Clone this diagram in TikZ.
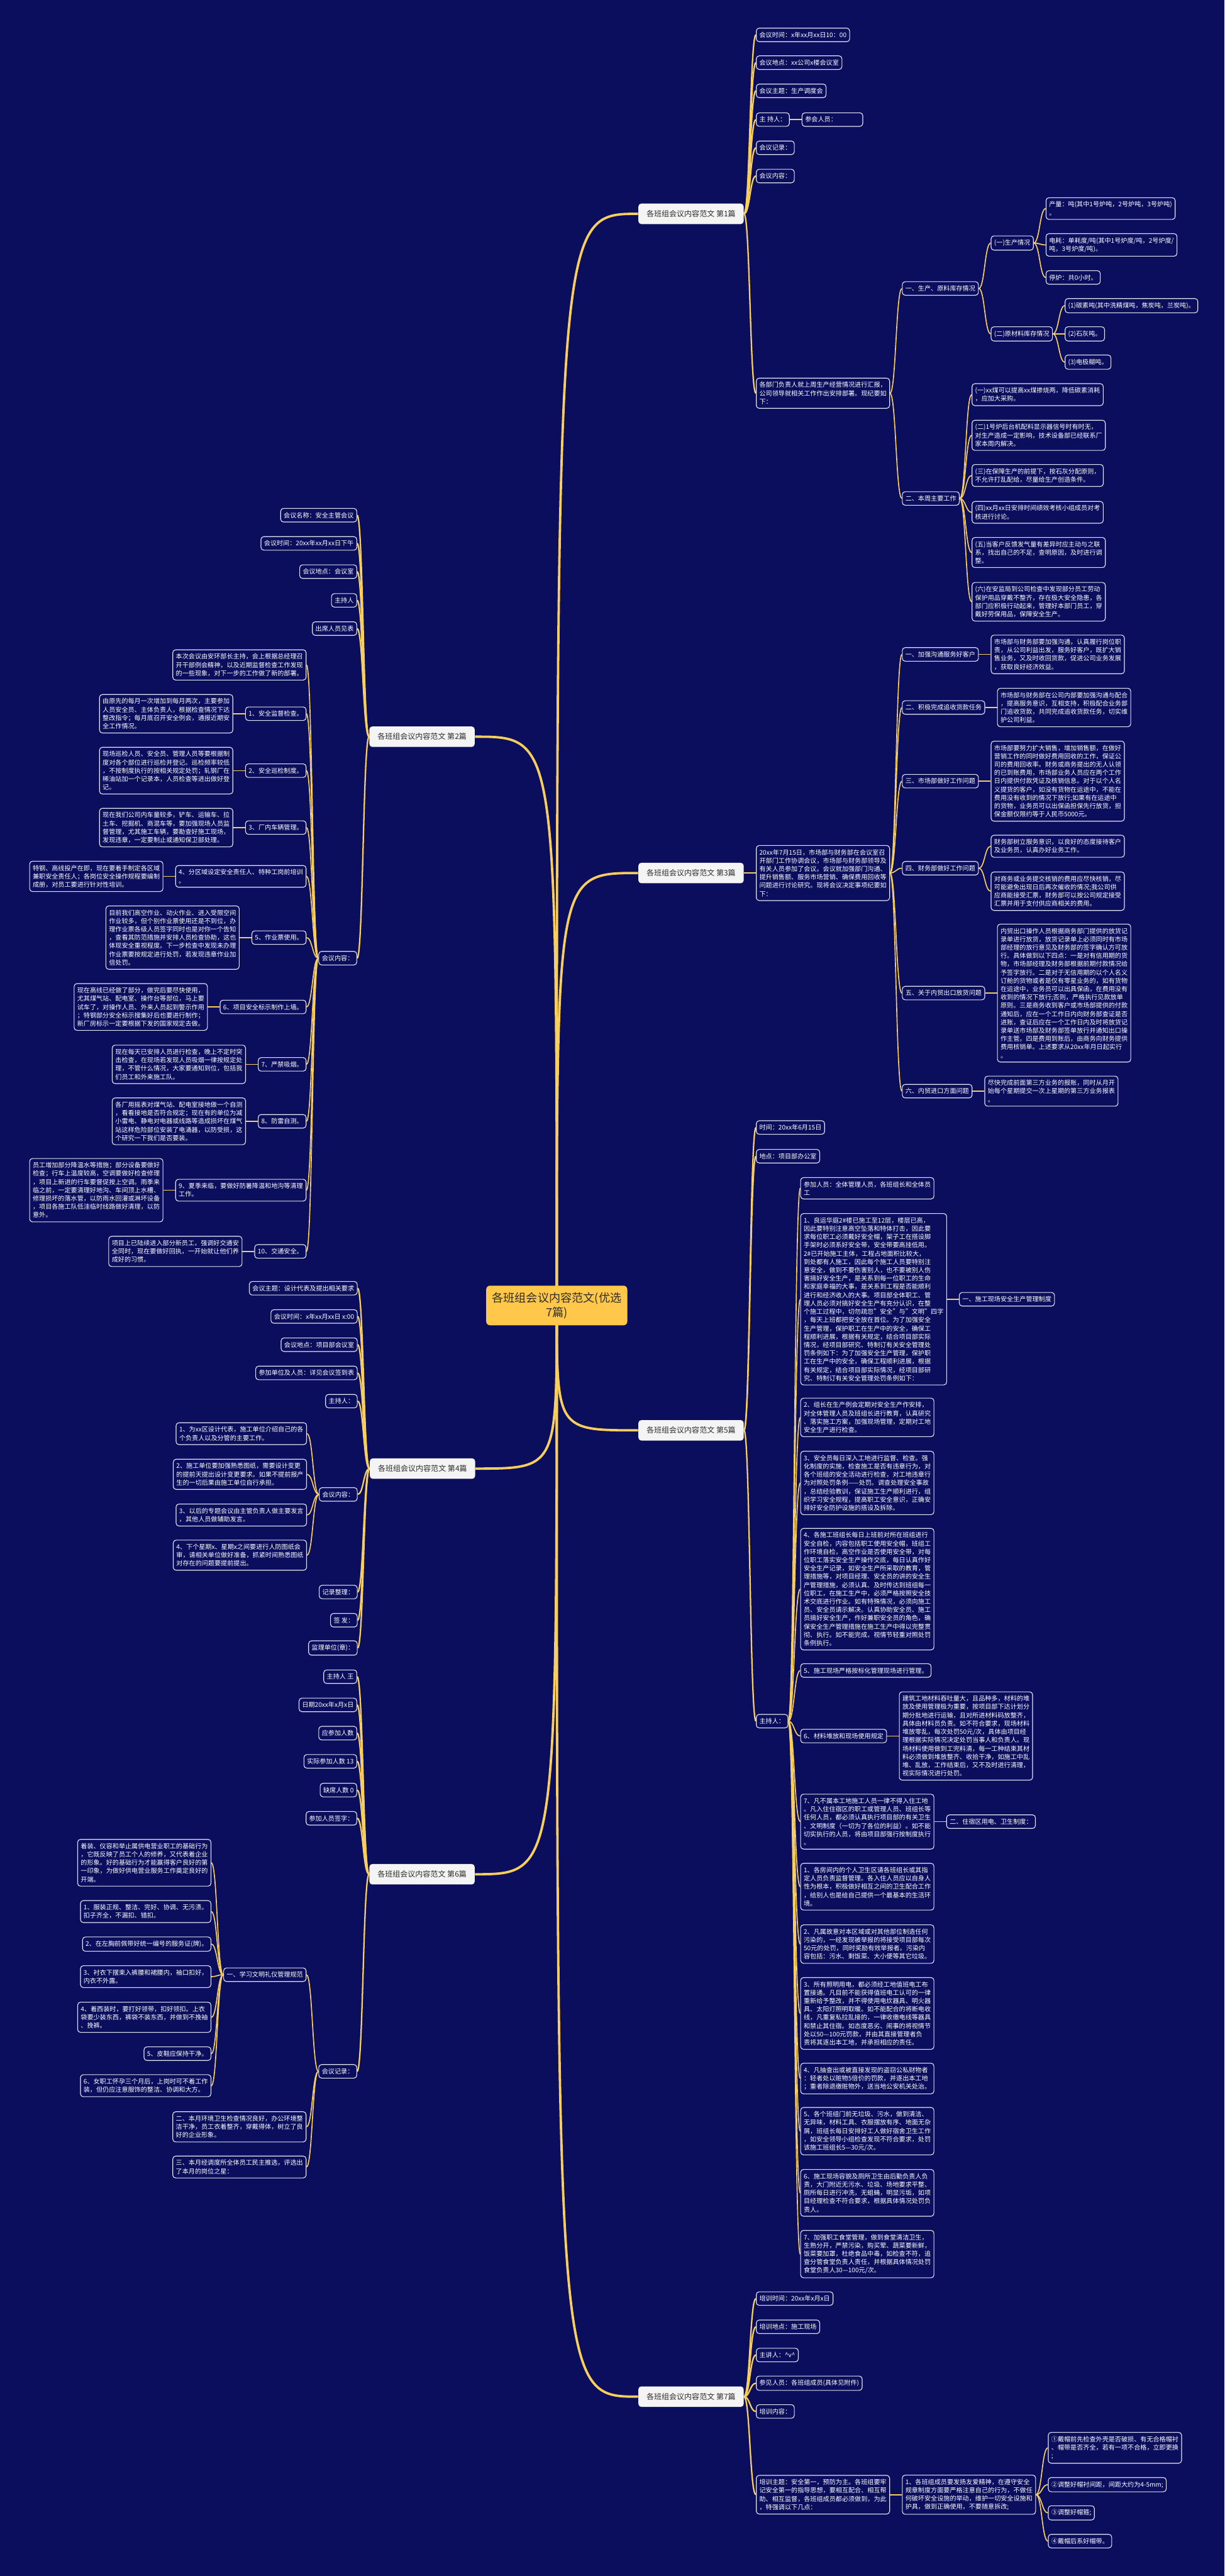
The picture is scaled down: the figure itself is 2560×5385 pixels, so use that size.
\documentclass[tikz,border=0pt]{standalone}
\usepackage{fontspec}
\setmainfont{Noto Sans CJK SC}
\usepackage{tikz}
\usetikzlibrary{positioning, calc, backgrounds}

\definecolor{bgc}{RGB}{10,14,92}
\definecolor{goldc}{RGB}{248,206,92}
\definecolor{linec}{RGB}{225,225,240}
\definecolor{branchc}{RGB}{244,244,244}
\definecolor{rootc}{RGB}{255,200,75}
\definecolor{inkc}{RGB}{45,45,45}

\tikzset{
  leaf/.style={draw=linec, line width=0.15mm, fill=bgc, text=white, rounded corners=0.6mm,
    align=left, font=\fontsize{3.78pt}{4.94pt}\selectfont, inner xsep=0.65mm, inner ysep=0.8mm},
  branch/.style={fill=branchc, text=inkc, rounded corners=0.6mm, minimum width=22mm,
    font=\fontsize{4.5pt}{5.6pt}\selectfont, inner xsep=0.8mm, inner ysep=1.4mm},
  topic/.style={fill=rootc, text=inkc, rounded corners=0.8mm, align=center,
    font=\fontsize{6.8pt}{8.5pt}\selectfont, inner xsep=1.2mm, inner ysep=1.4mm},
  link/.style={draw=goldc, line width=0.3mm, to path={.. controls ($(\tikztostart)!0.5!(\tikztotarget |- \tikztostart)$) and ($(\tikztotarget)!0.5!(\tikztostart |- \tikztotarget)$) .. (\tikztotarget)}},
  sublink/.style={link, line width=0.22mm},
  rootlink/.style={draw=goldc, line width=0.5mm, to path={.. controls (\tikztostart |- \tikztotarget) .. (\tikztotarget)}},
}

\begin{document}
\begin{tikzpicture}[x=0.1mm, y=-0.1mm]
  \begin{scope}[on background layer]
    \fill[bgc] (0,0) rectangle (2560,5385);
  \end{scope}
  \useasboundingbox (0,0) rectangle (2560,5385);

  % Root and branches
  \node[topic] (root) at (1164,2729) {各班组会议内容范文(优选\\7篇)};
  \node[branch, anchor=west] (p1) at (1334,447) {各班组会议内容范文 第1篇};
  \node[branch, anchor=west] (p3) at (1334,1825) {各班组会议内容范文 第3篇};
  \node[branch, anchor=west] (p5) at (1334,2990) {各班组会议内容范文 第5篇};
  \node[branch, anchor=west] (p7) at (1334,5010) {各班组会议内容范文 第7篇};
  \node[branch, anchor=east] (p2) at (993,1540) {各班组会议内容范文 第2篇};
  \node[branch, anchor=east] (p4) at (994,3070) {各班组会议内容范文 第4篇};
  \node[branch, anchor=east] (p6) at (993,3918) {各班组会议内容范文 第6篇};

  % Branch 1
  \coordinate (k1) at ([xshift=2.5mm]p1.east);
  \node[leaf, anchor=west] (p1a) at (k1 |- 0,73) {会议时间：x年xx月xx日10：00};
  \node[leaf, anchor=west] (p1b) at (k1 |- 0,131) {会议地点：xx公司x楼会议室};
  \node[leaf, anchor=west] (p1c) at (k1 |- 0,190) {会议主题：生产调度会};
  \node[leaf, anchor=west] (p1d) at (k1 |- 0,250) {主 持人：};
  \node[leaf, text width=11.4mm, right=2.5mm of p1d] (p1d1) {参会人员：};
  \node[leaf, anchor=west] (p1e) at (k1 |- 0,309) {会议记录：};
  \node[leaf, anchor=west] (p1f) at (k1 |- 0,368) {会议内容：};
  \node[leaf, anchor=west] (p1g) at (k1 |- 0,822) {各部门负责人就上周生产经营情况进行汇报，\\公司领导就相关工作作出安排部署。现纪要如\\下：};
  \coordinate (k1g) at ([xshift=2.5mm]p1g.east);
  \node[leaf, anchor=west] (p1g1) at (k1g |- 0,603) {一、生产、原料库存情况};
  \node[leaf, anchor=west] (p1g2) at (k1g |- 0,1042) {二、本周主要工作};
  \coordinate (k1g1) at ([xshift=2.5mm]p1g1.east);
  \node[leaf, anchor=west] (p1g1a) at (k1g1 |- 0,508) {(一)生产情况};
  \node[leaf, anchor=west] (p1g1b) at (k1g1 |- 0,698) {(二)原材料库存情况};
  \coordinate (k1g1a) at ([xshift=2.5mm]p1g1a.east);
  \node[leaf, anchor=west] (p1g1a1) at (k1g1a |- 0,436) {产量：吨(其中1号炉吨，2号炉吨，3号炉吨)\\。};
  \node[leaf, anchor=west] (p1g1a2) at (k1g1a |- 0,512) {电耗：单耗度/吨(其中1号炉度/吨，2号炉度/\\吨，3号炉度/吨)。};
  \node[leaf, anchor=west] (p1g1a3) at (k1g1a |- 0,580) {停炉：共0小时。};
  \coordinate (k1g1b) at ([xshift=2.5mm]p1g1b.east);
  \node[leaf, anchor=west] (p1g1b1) at (k1g1b |- 0,639) {(1)碳素吨(其中洗精煤吨，焦炭吨，兰炭吨)。};
  \node[leaf, anchor=west] (p1g1b2) at (k1g1b |- 0,698) {(2)石灰吨。};
  \node[leaf, anchor=west] (p1g1b3) at (k1g1b |- 0,757) {(3)电极糊吨。};
  \coordinate (k1g2) at ([xshift=2.5mm]p1g2.east);
  \node[leaf, anchor=west] (p1g2a) at (k1g2 |- 0,825) {(一)xx煤可以提高xx煤掺烧两，降低碳素消耗\\，应加大采购。};
  \node[leaf, anchor=west] (p1g2b) at (k1g2 |- 0,910) {(二)1号炉后台机配料显示器信号时有时无，\\对生产造成一定影响，技术设备部已经联系厂\\家本周内解决。};
  \node[leaf, anchor=west] (p1g2c) at (k1g2 |- 0,994) {(三)在保障生产的前提下，按石灰分配原则，\\不允许打乱配给，尽量给生产创造条件。};
  \node[leaf, anchor=west] (p1g2d) at (k1g2 |- 0,1071) {(四)xx月xx日安排时间绩效考核小组成员对考\\核进行讨论。};
  \node[leaf, anchor=west] (p1g2e) at (k1g2 |- 0,1155) {(五)当客户反馈发气量有差异时应主动与之联\\系，找出自己的不足，查明原因，及时进行调\\整。};
  \node[leaf, anchor=west] (p1g2f) at (k1g2 |- 0,1258) {(六)在安监局到公司检查中发现部分员工劳动\\保护用品穿戴不整齐，存在极大安全隐患，各\\部门应积极行动起来，管理好本部门员工，穿\\戴好劳保用品，保障安全生产。};

  % Branch 3
  \coordinate (k3) at ([xshift=2.5mm]p3.east);
  \node[leaf, anchor=west] (p3a) at (k3 |- 0,1825) {20xx年7月15日，市场部与财务部在会议室召\\开部门工作协调会议，市场部与财务部领导及\\有关人员参加了会议。会议就加强部门沟通、\\提升销售额、服务市场营销、确保费用回收等\\问题进行讨论研究。现将会议决定事项纪要如\\下：};
  \coordinate (k3a) at ([xshift=2.5mm]p3a.east);
  \node[leaf, anchor=west] (p3a1) at (k3a |- 0,1368) {一、加强沟通服务好客户};
  \node[leaf, right=2.5mm of p3a1] (p3a1x) {市场部与财务部要加强沟通，认真履行岗位职\\责，从公司利益出发，服务好客户，既扩大销\\售业务，又及时收回货款，促进公司业务发展\\，获取良好经济效益。};
  \node[leaf, anchor=west] (p3a2) at (k3a |- 0,1479) {二、积极完成追收货款任务};
  \node[leaf, right=2.5mm of p3a2] (p3a2x) {市场部与财务部在公司内部要加强沟通与配合\\，提高服务意识，互相支持，积极配合业务部\\门追收货款，共同完成追收货款任务，切实维\\护公司利益。};
  \node[leaf, anchor=west] (p3a3) at (k3a |- 0,1633) {三、市场部做好工作问题};
  \node[leaf, right=2.5mm of p3a3] (p3a3x) {市场部要努力扩大销售，增加销售额，在做好\\营销工作的同时做好费用回收的工作，保证公\\司的费用回收率。财务或商务提出的无人认领\\的已到账费用，市场部业务人员应在两个工作\\日内提供付款凭证及核销信息。对于以个人名\\义提货的客户，如没有货物在运途中，不能在\\费用没有收到的情况下放行;如果有在运途中\\的货物，业务员可以出保函担保先行放货，担\\保金额仅限约等于人民币5000元。};
  \node[leaf, anchor=west] (p3a4) at (k3a |- 0,1815) {四、财务部做好工作问题};
  \coordinate (k3a4) at ([xshift=2.5mm]p3a4.east);
  \node[leaf, anchor=west] (p3a4a) at (k3a4 |- 0,1769) {财务部树立服务意识，以良好的态度接待客户\\及业务员，认真办好业务工作。};
  \node[leaf, anchor=west] (p3a4b) at (k3a4 |- 0,1863) {对商务或业务提交核销的费用应尽快核销，尽\\可能避免出现日后再次催收的情况;我公司供\\应商能接受汇票，财务部可以按公司规定接受\\汇票并用于支付供应商相关的费用。};
  \node[leaf, anchor=west] (p3a5) at (k3a |- 0,2076) {五、关于内贸出口放货问题};
  \node[leaf, right=2.5mm of p3a5] (p3a5x) {内贸出口操作人员根据商务部门提供的放货记\\录单进行放货，放货记录单上必须同时有市场\\部经理的放行意见及财务部的签字确认方可放\\行。具体做到以下四点：一是对有信用期的货\\物，市场部经理及财务部根据前期付款情况给\\予签字放行。二是对于无信用期的以个人名义\\订舱的货物或者是仅有零星业务的，如有货物\\在运途中，业务员可以出具保函，在费用没有\\收到的情况下放行;否则，严格执行见款放单\\原则。三是商务收到客户或市场部提供的付款\\通知后，应在一个工作日内向财务部查证是否\\进账，查证后应在一个工作日内及时将放货记\\录单送市场部及财务部签单放行并通知出口操\\作主管。四是费用到账后，由商务向财务提供\\费用核销单。上述要求从20xx年月日起实行\\。};
  \node[leaf, anchor=west] (p3a6) at (k3a |- 0,2281) {六、内贸进口方面问题};
  \node[leaf, right=2.5mm of p3a6] (p3a6x) {尽快完成前面第三方业务的报账，同时从月开\\始每个星期提交一次上星期的第三方业务报表\\。};

  % Branch 5
  \coordinate (k5) at ([xshift=2.5mm]p5.east);
  \node[leaf, anchor=west] (p5a) at (k5 |- 0,2357) {时间：20xx年6月15日};
  \node[leaf, anchor=west] (p5b) at (k5 |- 0,2417) {地点：项目部办公室};
  \node[leaf, anchor=west] (p5c) at (k5 |- 0,3598) {主持人：};
  \coordinate (k5c) at ([xshift=2.5mm]p5c.east);
  \node[leaf, anchor=west] (p5c1) at (k5c |- 0,2484) {参加人员：全体管理人员，各班组长和全体员\\工};
  \node[leaf, anchor=west] (p5c2) at (k5c |- 0,2716) {1、良运华庭2\#楼已施工至12层，楼层已高，\\因此要特别注意高空坠落和特体打击，因此要\\求每位职工必须戴好安全帽，架子工在搭设脚\\手架时必须系好安全带，安全带要高挂低用。\\2\#已开始施工主体，工程占地面积比较大，\\到处都有人施工，因此每个施工人员要特别注\\意安全，做到不要伤害别人，也不要被别人伤\\害搞好安全生产，是关系到每一位职工的生命\\和家庭幸福的大事，是关系到工程是否能顺利\\进行和经济收入的大事。项目部全体职工、管\\理人员必须对搞好安全生产有充分认识，在整\\个施工过程中，切勿疏忽"安全"与"文明"四字\\，每天上班都把安全放在首位。为了加强安全\\生产管理，保护职工在生产中的安全，确保工\\程顺利进展，根据有关规定，结合项目部实际\\情况，经项目部研究、特制订有关安全管理处\\罚条例如下：为了加强安全生产管理，保护职\\工在生产中的安全，确保工程顺利进展，根据\\有关规定，结合项目部实际情况，经项目部研\\究、特制订有关安全管理处罚条例如下：};
  \node[leaf, right=2.5mm of p5c2] (p5c2x) {一、施工现场安全生产管理制度};
  \node[leaf, anchor=west] (p5c3) at (k5c |- 0,2963) {2、组长在生产例会定期对安全生产作安排，\\对全体管理人员及班组长进行教育，认真研究\\、落实施工方案，加强现场管理，定期对工地\\安全生产进行检查。};
  \node[leaf, anchor=west] (p5c4) at (k5c |- 0,3100) {3、安全员每日深入工地进行监督、检查。强\\化制度的实施，检查施工是否有违章行为，对\\各个班组的安全活动进行检查，对工地违章行\\为对照处罚条例——处罚。调查处理安全事故\\，总结经验教训，保证施工生产顺利进行，组\\织学习安全规程，提高职工安全意识，正确安\\排好安全防护设施的搭设及拆除。};
  \node[leaf, anchor=west] (p5c5) at (k5c |- 0,3322) {4、各施工班组长每日上班前对所在班组进行\\安全自检，内容包括职工使用安全帽，班组工\\作环境自检，高空作业是否使用安全带，对每\\位职工落实安全生产操作交底，每日认真作好\\安全生产记录，如安全生产所采取的教育，管\\理措施等，对项目经理、安全员的讲的安全生\\产管理措施，必须认真、及时传达到班组每一\\位职工，在施工生产中，必须严格按照安全技\\术交底进行作业。如有特殊情况，必须向施工\\员、安全员请示解决。认真协助安全员、施工\\员搞好安全生产，作好兼职安全员的角色，确\\保安全生产管理措施在施工生产中得以完整贯\\彻、执行。如不能完成，视情节轻重对照处罚\\条例执行。};
  \node[leaf, anchor=west] (p5c6) at (k5c |- 0,3492) {5、施工现场严格按标化管理现场进行管理。};
  \node[leaf, anchor=west] (p5c7) at (k5c |- 0,3629) {6、材料堆放和现场使用规定};
  \node[leaf, right=2.5mm of p5c7] (p5c7x) {建筑工地材料吞吐量大，且品种多，材料的堆\\放及使用管理极为重要，按项目部下达计划分\\期分批地进行运输，且对所进材料码放整齐，\\具体由材料员负责。如不符合要求，现场材料\\堆放零乱，每次处罚50元/次，具体由项目经\\理根据实际情况决定处罚当事人和负责人。现\\场材料使用做到工完料清，每一工种结束其材\\料必须做到堆放整齐、收拾干净，如施工中乱\\堆、乱放，工作结束后，又不及时进行清理，\\视实际情况进行处罚。};
  \node[leaf, anchor=west] (p5c8) at (k5c |- 0,3808) {7、凡不属本工地施工人员一律不得入住工地\\。凡入住住宿区的职工或管理人员、班组长等\\任何人员，都必须认真执行项目部的有关卫生\\、文明制度（一切为了各位的利益）。如不能\\切实执行的人员，将由项目部强行按制度执行\\。};
  \node[leaf, right=2.5mm of p5c8] (p5c8x) {二、住宿区用电、卫生制度：};
  \node[leaf, anchor=west] (p5c9) at (k5c |- 0,3944) {1、各房间内的个人卫生区请各班组长或其指\\定人员负责监督管理。各入住人员应以自身人\\性为根本，积极做好相互之间的卫生配合工作\\，给别人也是给自己提供一个最基本的生活环\\境。};
  \node[leaf, anchor=west] (p5c10) at (k5c |- 0,4064) {2、凡属故意对本区域或对其他部位制造任何\\污染的，一经发现被举报的将接受项目部每次\\50元的处罚，同时奖励有效举报者。污染内\\容包括：污水、剩饭菜、大小便等其它垃圾。};
  \node[leaf, anchor=west] (p5c11) at (k5c |- 0,4209) {3、所有照明用电，都必须经工地值班电工布\\置接通。凡目前不能获得值班电工认可的一律\\重新给予整改，并不得使用电炊器具、明火器\\具、太阳灯照明取暖。如不能配合的将断电收\\线，凡重复私拉乱接的，一律收缴电线等器具\\和禁止其住宿。如态度恶劣、闹事的将视情节\\处以50—100元罚款，并由其直接管理者负\\责将其逐出本工地，并承担相应的责任。};
  \node[leaf, anchor=west] (p5c12) at (k5c |- 0,4345) {4、凡抽查出或被直接发现的盗窃公私财物者\\：轻者处以赃物5倍价的罚款，并逐出本工地\\；重者除退缴赃物外，送当地公安机关处治。};
  \node[leaf, anchor=west] (p5c13) at (k5c |- 0,4455) {5、各个班组门前无垃圾、污水，做到清洁、\\无异味，材料工具、衣服摆放有序、地面无杂\\屑，班组长每日安排好工人做好宿舍卫生工作\\，如安全领导小组检查发现不符合要求，处罚\\该施工班组长5—30元/次。};
  \node[leaf, anchor=west] (p5c14) at (k5c |- 0,4584) {6、施工现场容貌及厕所卫生由后勤负责人负\\责，大门附近无污水、垃圾、场地要求平整、\\厕所每日进行冲洗，无蛆蝇，明显污垢，如项\\目经理检查不符合要求，根据具体情况处罚负\\责人。};
  \node[leaf, anchor=west] (p5c15) at (k5c |- 0,4712) {7、加强职工食堂管理，做到食堂清洁卫生，\\生熟分开，严禁污染，购买荤、蔬菜要新鲜，\\饭菜要加罩，杜绝食品中毒，如检查不符，追\\查分管食堂负责人责任，并根据具体情况处罚\\食堂负责人30—100元/次。};

  % Branch 7
  \coordinate (k7) at ([xshift=2.5mm]p7.east);
  \node[leaf, anchor=west] (p7a) at (k7 |- 0,4805) {培训时间：20xx年x月x日};
  \node[leaf, anchor=west] (p7b) at (k7 |- 0,4864) {培训地点：施工现场};
  \node[leaf, anchor=west] (p7c) at (k7 |- 0,4923) {主讲人：\^{}v\^{}};
  \node[leaf, anchor=west] (p7d) at (k7 |- 0,4982) {参见人员：各班组成员(具体见附件)};
  \node[leaf, anchor=west] (p7e) at (k7 |- 0,5041) {培训内容：};
  \node[leaf, anchor=west] (p7f) at (k7 |- 0,5215) {培训主题：安全第一，预防为主。各班组要牢\\记安全第一的指导思想，要相互配合、相互帮\\助、相互监督，各班组成员都必须做到，为此\\，特强调以下几点：};
  \node[leaf, right=2.5mm of p7f] (p7f1) {1、各班组成员要发扬友爱精神，在遵守安全\\规章制度方面要严格注意自己的行为，不做任\\何破坏安全设施的举动，维护一切安全设施和\\护具，做到正确使用，不要随意拆改;};
  \coordinate (k7f1) at ([xshift=2.5mm]p7f1.east);
  \node[leaf, anchor=west] (p7f1a) at (k7f1 |- 0,5117) {①戴帽前先检查外壳是否破损、有无合格帽衬\\、帽带是否齐全，若有一项不合格，立即更换\\;};
  \node[leaf, anchor=west] (p7f1b) at (k7f1 |- 0,5194) {②调整好帽衬间距，间距大约为4-5mm;};
  \node[leaf, anchor=west] (p7f1c) at (k7f1 |- 0,5253) {③调整好帽箍;};
  \node[leaf, anchor=west] (p7f1d) at (k7f1 |- 0,5312) {④戴帽后系好帽带。};

  % Branch 2
  \coordinate (k2) at ([xshift=-2.5mm]p2.west);
  \node[leaf, anchor=east] (p2a) at (k2 |- 0,1077) {会议名称：安全主管会议};
  \node[leaf, anchor=east] (p2b) at (k2 |- 0,1136) {会议时间：20xx年xx月xx日下午};
  \node[leaf, anchor=east] (p2c) at (k2 |- 0,1195) {会议地点：会议室};
  \node[leaf, anchor=east] (p2d) at (k2 |- 0,1255) {主持人};
  \node[leaf, anchor=east] (p2e) at (k2 |- 0,1314) {出席人员见表};
  \node[leaf, anchor=east] (p2f) at (k2 |- 0,2003) {会议内容：};
  \coordinate (k2f) at ([xshift=-2.5mm]p2f.west);
  \node[leaf, anchor=east] (p2f1) at (k2f |- 0,1390) {本次会议由安环部长主持，会上根据总经理召\\开干部例会精神，以及近期监督检查工作发现\\的一些现象，对下一步的工作做了新的部署。};
  \node[leaf, anchor=east] (p2f2) at (k2f |- 0,1492) {1、安全监督检查。};
  \node[leaf, left=2.5mm of p2f2] (p2f2x) {由原先的每月一次增加到每月两次，主要参加\\人员安全员、主体负责人，根据检查情况下达\\整改指令；每月底召开安全例会，通报近期安\\全工作情况。};
  \node[leaf, anchor=east] (p2f3) at (k2f |- 0,1611) {2、安全巡检制度。};
  \node[leaf, left=2.5mm of p2f3] (p2f3x) {现场巡检人员、安全员、管理人员等要根据制\\度对各个部位进行巡检并登记。巡检频率较低\\，不按制度执行的按相关规定处罚；轧钢厂在\\稀油站加一个记录本，人员检查等进出做好登\\记。};
  \node[leaf, anchor=east] (p2f4) at (k2f |- 0,1730) {3、厂内车辆管理。};
  \node[leaf, left=2.5mm of p2f4] (p2f4x) {现在我们公司内车量较多，铲车、运输车、拉\\土车、挖掘机、商混车等，要加强现场人员监\\督管理，尤其施工车辆，要勘查好施工现场，\\发现违章，一定要制止或通知保卫部处理。};
  \node[leaf, anchor=east] (p2f5) at (k2f |- 0,1832) {4、分区域设定安全责任人、特种工岗前培训\\。};
  \node[leaf, left=2.5mm of p2f5] (p2f5x) {特钢、高线投产在即，现在要着手制定各区域\\兼职安全责任人；各岗位安全操作规程要编制\\成册，对员工要进行针对性培训。};
  \node[leaf, anchor=east] (p2f6) at (k2f |- 0,1960) {5、作业票使用。};
  \node[leaf, left=2.5mm of p2f6] (p2f6x) {目前我们高空作业、动火作业、进入受限空间\\作业较多，但个别作业票使用还是不到位，办\\理作业票各级人员签字同时也是对你一个告知\\，查看其防范措施并安排人员检查协助，这也\\体现安全重视程度。下一步检查中发现未办理\\作业票要按规定进行处罚，若发现违章作业加\\倍处罚。};
  \node[leaf, anchor=east] (p2f7) at (k2f |- 0,2105) {6、项目安全标示制作上墙。};
  \node[leaf, left=2.5mm of p2f7] (p2f7x) {现在高线已经做了部分，做完后要尽快使用，\\尤其煤气站、配电室、操作台等部位，马上要\\试车了，对操作人员、外来人员起到警示作用\\；特钢部分安全标示搜集好后也要进行制作；\\新厂房标示一定要根据下发的国家规定去做。};
  \node[leaf, anchor=east] (p2f8) at (k2f |- 0,2225) {7、严禁吸烟。};
  \node[leaf, left=2.5mm of p2f8] (p2f8x) {现在每天已安排人员进行检查，晚上不定时突\\击检查，在现场若发现人员吸烟一律按规定处\\理，不管什么情况，大家要通知到位，包括我\\们员工和外来施工队。};
  \node[leaf, anchor=east] (p2f9) at (k2f |- 0,2344) {8、防雷自测。};
  \node[leaf, left=2.5mm of p2f9] (p2f9x) {各厂用摇表对煤气站、配电室接地做一个自测\\，看看接地是否符合规定；现在有的单位为减\\小雷电、静电对电器或线路等造成损坏在煤气\\站这样危险部位安装了电涌器，以防受损，这\\个研究一下我们是否要装。};
  \node[leaf, anchor=east] (p2f10) at (k2f |- 0,2488) {9、夏季来临，要做好防暑降温和地沟等清理\\工作。};
  \node[leaf, left=2.5mm of p2f10] (p2f10x) {员工增加部分降温水等措施；部分设备要做好\\检查；行车上温度较高，空调要做好检查修理\\，项目上新进的行车要督促按上空调。雨季来\\临之前，一定要清理好地沟、车间顶上水槽、\\修理损坏的落水管，以防雨水回灌或淋坏设备\\，项目各施工队低洼临时线路做好清理，以防\\意外。};
  \node[leaf, anchor=east] (p2f11) at (k2f |- 0,2616) {10、交通安全。};
  \node[leaf, left=2.5mm of p2f11] (p2f11x) {项目上已陆续进入部分新员工，强调好交通安\\全同时，现在要做好回执，一开始就让他们养\\成好的习惯。};

  % Branch 4
  \coordinate (k4) at ([xshift=-2.5mm]p4.west);
  \node[leaf, anchor=east] (p4a) at (k4 |- 0,2693) {会议主题：设计代表及提出相关要求};
  \node[leaf, anchor=east] (p4b) at (k4 |- 0,2752) {会议时间：x年xx月xx日 x:00};
  \node[leaf, anchor=east] (p4c) at (k4 |- 0,2811) {会议地点：项目部会议室};
  \node[leaf, anchor=east] (p4d) at (k4 |- 0,2870) {参加单位及人员：详见会议签到表};
  \node[leaf, anchor=east] (p4e) at (k4 |- 0,2929) {主持人：};
  \node[leaf, anchor=east] (p4f) at (k4 |- 0,3124) {会议内容：};
  \node[leaf, anchor=east] (p4g) at (k4 |- 0,3328) {记录整理：};
  \node[leaf, anchor=east] (p4h) at (k4 |- 0,3387) {签 发：};
  \node[leaf, anchor=east] (p4i) at (k4 |- 0,3445) {监理单位(章)：};
  \coordinate (k4f) at ([xshift=-2.5mm]p4f.west);
  \node[leaf, anchor=east] (p4f1) at (k4f |- 0,2997) {1、为xx区设计代表，施工单位介绍自己的各\\个负责人以及分管的主要工作。};
  \node[leaf, anchor=east] (p4f2) at (k4f |- 0,3082) {2、施工单位要加强熟悉图纸，需要设计变更\\的提前天提出设计变更要求。如果不提前报产\\生的一切后果由施工单位自行承担。};
  \node[leaf, anchor=east] (p4f3) at (k4f |- 0,3167) {3、以后的专题会议由主管负责人做主要发言\\，其他人员做辅助发言。};
  \node[leaf, anchor=east] (p4f4) at (k4f |- 0,3251) {4、下个星期x、星期x之间要进行人防图纸会\\审，请相关单位做好准备，抓紧时间熟悉图纸\\对存在的问题要提前提出。};

  % Branch 6
  \coordinate (k6) at ([xshift=-2.5mm]p6.west);
  \node[leaf, anchor=east] (p6a) at (k6 |- 0,3505) {主持人 王};
  \node[leaf, anchor=east] (p6b) at (k6 |- 0,3564) {日期20xx年x月x日};
  \node[leaf, anchor=east] (p6c) at (k6 |- 0,3623) {应参加人数};
  \node[leaf, anchor=east] (p6d) at (k6 |- 0,3682) {实际参加人数 13};
  \node[leaf, anchor=east] (p6e) at (k6 |- 0,3742) {缺席人数 0};
  \node[leaf, anchor=east] (p6f) at (k6 |- 0,3801) {参加人员签字：};
  \node[leaf, anchor=east] (p6g) at (k6 |- 0,4330) {会议记录：};
  \coordinate (k6g) at ([xshift=-2.5mm]p6g.west);
  \node[leaf, anchor=east] (p6g1) at (k6g |- 0,4128) {一、学习文明礼仪管理规范};
  \node[leaf, anchor=east] (p6g2) at (k6g |- 0,4446) {二、本月环境卫生检查情况良好，办公环境整\\洁干净，员工衣着整齐，穿戴得体，树立了良\\好的企业形象。};
  \node[leaf, anchor=east] (p6g3) at (k6g |- 0,4530) {三、本月经调度所全体员工民主推选，评选出\\了本月的岗位之星：};
  \coordinate (k6g1) at ([xshift=-2.5mm]p6g1.west);
  \node[leaf, anchor=east] (p6g1a) at (k6g1 |- 0,3894) {着装、仪容和举止属供电营业职工的基础行为\\，它既反映了员工个人的修养，又代表着企业\\的形象。好的基础行为才能赢得客户良好的第\\一印象，为做好供电营业服务工作奠定良好的\\开端。};
  \node[leaf, anchor=east] (p6g1b) at (k6g1 |- 0,3996) {1、服装正规、整洁、完好、协调、无污渍。\\扣子齐全，不漏扣、错扣。};
  \node[leaf, anchor=east] (p6g1c) at (k6g1 |- 0,4064) {2、在左胸前佩带好统一编号的服务证(牌)。};
  \node[leaf, anchor=east] (p6g1d) at (k6g1 |- 0,4132) {3、衬衣下摆束入裤腰和裙腰内，袖口扣好，\\内衣不外露。};
  \node[leaf, anchor=east] (p6g1e) at (k6g1 |- 0,4217) {4、着西装时，要打好领带，扣好领扣。上衣\\袋要少装东西，裤袋不装东西，并做到不挽袖\\、挽裤。};
  \node[leaf, anchor=east] (p6g1f) at (k6g1 |- 0,4293) {5、皮鞋应保持干净。};
  \node[leaf, anchor=east] (p6g1g) at (k6g1 |- 0,4360) {6、女职工怀孕三个月后，上岗时可不着工作\\装，但仍应注意服饰的整洁、协调和大方。};

  % Edges
  \begin{scope}[on background layer]
  \draw[rootlink] (root.center) to (p1.west);
  \draw[rootlink] (root.center) to (p3.west);
  \draw[rootlink] (root.center) to (p5.west);
  \draw[rootlink] (root.center) to (p7.west);
  \draw[rootlink] (root.center) to (p2.east);
  \draw[rootlink] (root.center) to (p4.east);
  \draw[rootlink] (root.center) to (p6.east);

  \draw[link] (p1.east) to (p1a.west);
  \draw[link] (p1.east) to (p1b.west);
  \draw[link] (p1.east) to (p1c.west);
  \draw[link] (p1.east) to (p1d.west);
  \draw[link] (p1.east) to (p1e.west);
  \draw[link] (p1.east) to (p1f.west);
  \draw[link] (p1.east) to (p1g.west);
  \draw[sublink] (p1d.east) to (p1d1.west);
  \draw[sublink] (p1g.east) to (p1g1.west);
  \draw[sublink] (p1g.east) to (p1g2.west);
  \draw[sublink] (p1g1.east) to (p1g1a.west);
  \draw[sublink] (p1g1.east) to (p1g1b.west);
  \draw[sublink] (p1g1a.east) to (p1g1a1.west);
  \draw[sublink] (p1g1a.east) to (p1g1a2.west);
  \draw[sublink] (p1g1a.east) to (p1g1a3.west);
  \draw[sublink] (p1g1b.east) to (p1g1b1.west);
  \draw[sublink] (p1g1b.east) to (p1g1b2.west);
  \draw[sublink] (p1g1b.east) to (p1g1b3.west);
  \draw[sublink] (p1g2.east) to (p1g2a.west);
  \draw[sublink] (p1g2.east) to (p1g2b.west);
  \draw[sublink] (p1g2.east) to (p1g2c.west);
  \draw[sublink] (p1g2.east) to (p1g2d.west);
  \draw[sublink] (p1g2.east) to (p1g2e.west);
  \draw[sublink] (p1g2.east) to (p1g2f.west);

  \draw[link] (p3.east) to (p3a.west);
  \draw[sublink] (p3a.east) to (p3a1.west);
  \draw[sublink] (p3a.east) to (p3a2.west);
  \draw[sublink] (p3a.east) to (p3a3.west);
  \draw[sublink] (p3a.east) to (p3a4.west);
  \draw[sublink] (p3a.east) to (p3a5.west);
  \draw[sublink] (p3a.east) to (p3a6.west);
  \draw[sublink] (p3a1.east) to (p3a1x.west);
  \draw[sublink] (p3a2.east) to (p3a2x.west);
  \draw[sublink] (p3a3.east) to (p3a3x.west);
  \draw[sublink] (p3a4.east) to (p3a4a.west);
  \draw[sublink] (p3a4.east) to (p3a4b.west);
  \draw[sublink] (p3a5.east) to (p3a5x.west);
  \draw[sublink] (p3a6.east) to (p3a6x.west);

  \draw[link] (p5.east) to (p5a.west);
  \draw[link] (p5.east) to (p5b.west);
  \draw[link] (p5.east) to (p5c.west);
  \draw[sublink] (p5c.east) to (p5c1.west);
  \draw[sublink] (p5c.east) to (p5c2.west);
  \draw[sublink] (p5c.east) to (p5c3.west);
  \draw[sublink] (p5c.east) to (p5c4.west);
  \draw[sublink] (p5c.east) to (p5c5.west);
  \draw[sublink] (p5c.east) to (p5c6.west);
  \draw[sublink] (p5c.east) to (p5c7.west);
  \draw[sublink] (p5c.east) to (p5c8.west);
  \draw[sublink] (p5c.east) to (p5c9.west);
  \draw[sublink] (p5c.east) to (p5c10.west);
  \draw[sublink] (p5c.east) to (p5c11.west);
  \draw[sublink] (p5c.east) to (p5c12.west);
  \draw[sublink] (p5c.east) to (p5c13.west);
  \draw[sublink] (p5c.east) to (p5c14.west);
  \draw[sublink] (p5c.east) to (p5c15.west);
  \draw[sublink] (p5c2.east) to (p5c2x.west);
  \draw[sublink] (p5c7.east) to (p5c7x.west);
  \draw[sublink] (p5c8.east) to (p5c8x.west);

  \draw[link] (p7.east) to (p7a.west);
  \draw[link] (p7.east) to (p7b.west);
  \draw[link] (p7.east) to (p7c.west);
  \draw[link] (p7.east) to (p7d.west);
  \draw[link] (p7.east) to (p7e.west);
  \draw[link] (p7.east) to (p7f.west);
  \draw[sublink] (p7f.east) to (p7f1.west);
  \draw[sublink] (p7f1.east) to (p7f1a.west);
  \draw[sublink] (p7f1.east) to (p7f1b.west);
  \draw[sublink] (p7f1.east) to (p7f1c.west);
  \draw[sublink] (p7f1.east) to (p7f1d.west);

  \draw[link] (p2.west) to (p2a.east);
  \draw[link] (p2.west) to (p2b.east);
  \draw[link] (p2.west) to (p2c.east);
  \draw[link] (p2.west) to (p2d.east);
  \draw[link] (p2.west) to (p2e.east);
  \draw[link] (p2.west) to (p2f.east);
  \draw[sublink] (p2f.west) to (p2f1.east);
  \draw[sublink] (p2f.west) to (p2f2.east);
  \draw[sublink] (p2f.west) to (p2f3.east);
  \draw[sublink] (p2f.west) to (p2f4.east);
  \draw[sublink] (p2f.west) to (p2f5.east);
  \draw[sublink] (p2f.west) to (p2f6.east);
  \draw[sublink] (p2f.west) to (p2f7.east);
  \draw[sublink] (p2f.west) to (p2f8.east);
  \draw[sublink] (p2f.west) to (p2f9.east);
  \draw[sublink] (p2f.west) to (p2f10.east);
  \draw[sublink] (p2f.west) to (p2f11.east);
  \draw[sublink] (p2f2.west) to (p2f2x.east);
  \draw[sublink] (p2f3.west) to (p2f3x.east);
  \draw[sublink] (p2f4.west) to (p2f4x.east);
  \draw[sublink] (p2f5.west) to (p2f5x.east);
  \draw[sublink] (p2f6.west) to (p2f6x.east);
  \draw[sublink] (p2f7.west) to (p2f7x.east);
  \draw[sublink] (p2f8.west) to (p2f8x.east);
  \draw[sublink] (p2f9.west) to (p2f9x.east);
  \draw[sublink] (p2f10.west) to (p2f10x.east);
  \draw[sublink] (p2f11.west) to (p2f11x.east);

  \draw[link] (p4.west) to (p4a.east);
  \draw[link] (p4.west) to (p4b.east);
  \draw[link] (p4.west) to (p4c.east);
  \draw[link] (p4.west) to (p4d.east);
  \draw[link] (p4.west) to (p4e.east);
  \draw[link] (p4.west) to (p4f.east);
  \draw[link] (p4.west) to (p4g.east);
  \draw[link] (p4.west) to (p4h.east);
  \draw[link] (p4.west) to (p4i.east);
  \draw[sublink] (p4f.west) to (p4f1.east);
  \draw[sublink] (p4f.west) to (p4f2.east);
  \draw[sublink] (p4f.west) to (p4f3.east);
  \draw[sublink] (p4f.west) to (p4f4.east);

  \draw[link] (p6.west) to (p6a.east);
  \draw[link] (p6.west) to (p6b.east);
  \draw[link] (p6.west) to (p6c.east);
  \draw[link] (p6.west) to (p6d.east);
  \draw[link] (p6.west) to (p6e.east);
  \draw[link] (p6.west) to (p6f.east);
  \draw[link] (p6.west) to (p6g.east);
  \draw[sublink] (p6g.west) to (p6g1.east);
  \draw[sublink] (p6g.west) to (p6g2.east);
  \draw[sublink] (p6g.west) to (p6g3.east);
  \draw[sublink] (p6g1.west) to (p6g1a.east);
  \draw[sublink] (p6g1.west) to (p6g1b.east);
  \draw[sublink] (p6g1.west) to (p6g1c.east);
  \draw[sublink] (p6g1.west) to (p6g1d.east);
  \draw[sublink] (p6g1.west) to (p6g1e.east);
  \draw[sublink] (p6g1.west) to (p6g1f.east);
  \draw[sublink] (p6g1.west) to (p6g1g.east);
  \end{scope}
\end{tikzpicture}
\end{document}
